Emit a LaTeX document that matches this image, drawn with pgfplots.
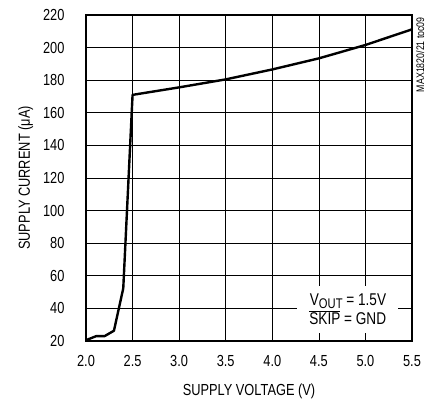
\documentclass[border=0pt]{standalone}
\usepackage{fontspec}
\setmainfont{Liberation Sans}[FakeStretch=0.8]
\usepackage{pgfplots}
\pgfplotsset{compat=1.18}

\newcommand{\lbl}{\fontsize{16bp}{19bp}\selectfont}

\begin{document}
\begin{tikzpicture}
\begin{axis}[
    at={(0,0)}, anchor=south west,
    scale only axis,
    width=326bp, height=326bp,
    xmin=2.0, xmax=5.5,
    ymin=20, ymax=220,
    xtick={2.0,2.5,...,5.5},
    ytick={20,40,...,220},
    grid=major,
    grid style={black, line width=0.7bp},
    major tick length=0pt,
    axis line style={line width=2.4bp},
    /pgf/number format/assume math mode=true,
    xticklabel style={font=\lbl, yshift=-11bp,
        /pgf/number format/.cd, fixed, fixed zerofill, precision=1},
    yticklabel style={font=\lbl, xshift=-18bp},
    xlabel={SUPPLY VOLTAGE (V)},
    ylabel={SUPPLY CURRENT (μA)},
    xlabel style={font=\lbl, yshift=-10bp},
    ylabel style={font=\lbl, yshift=3bp},
    clip=false,
]
\addplot[black, line width=2.4bp, line join=round] coordinates {
    (2.0,20.5) (2.11,23) (2.2,23) (2.3,26.3) (2.4,52.3) (2.5,171)
    (3.0,175.6) (3.5,180.5) (4.0,186.6) (4.5,193.4) (5.0,201.6) (5.5,211.2)
};
\node[fill=white, inner sep=0pt, minimum width=101bp, minimum height=47bp,
      align=right, font=\fontsize{17bp}{19bp}\selectfont] at (axis cs:4.81,39.3)
    {V\raisebox{-0.35ex}{\fontsize{14bp}{15bp}\selectfont OUT} = 1.5V\\
     $\overline{\mbox{SKIP}}$ = GND};
\node[rotate=90, anchor=north east, inner sep=0pt,
      font=\fontsize{11bp}{12bp}\selectfont] at ([xshift=4bp,yshift=-2bp]rel axis cs:1,1)
    {MAX1820/21 toc09};
\end{axis}
\pgfresetboundingbox
\path (-86bp,-59bp) rectangle (344bp,341bp);
\end{tikzpicture}
\end{document}
